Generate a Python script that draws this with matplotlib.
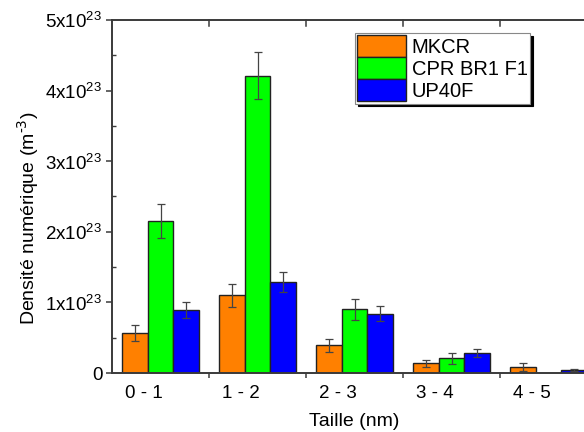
import numpy as np
import matplotlib
matplotlib.use("Agg")
import matplotlib.pyplot as plt
import matplotlib.transforms as mtransforms
from matplotlib.ticker import FuncFormatter, MultipleLocator

plt.rcParams['font.family'] = ['Liberation Sans', 'DejaVu Sans']

# data (m^-3)
categories = ["0 - 1", "1 - 2", "2 - 3", "3 - 4", "4 - 5"]
series_names = ["MKCR", "CPR BR1 F1", "UP40F"]
mkcr = [0.57e23, 1.10e23, 0.39e23, 0.14e23, 0.085e23]
mkcr_err = [0.11e23, 0.16e23, 0.09e23, 0.05e23, 0.05e23]
cpr = [2.15e23, 4.21e23, 0.90e23, 0.21e23, 0.0]
cpr_err = [0.24e23, 0.33e23, 0.15e23, 0.08e23, 0.0]
up40f = [0.89e23, 1.29e23, 0.84e23, 0.28e23, 0.04e23]
up40f_err = [0.11e23, 0.14e23, 0.11e23, 0.06e23, 0.015e23]

colors = ["#FF8000", "#00FF00", "#0000FF"]
spine_col = "#3a3a3a"

fig = plt.figure(figsize=(5.84, 4.32), dpi=100)
# axes runs past the right edge of the figure, like the cropped original
ax_w = 485.0
ax = fig.add_axes([112 / 584, 1 - 373 / 432, ax_w / 584, 353 / 432])

x = np.arange(len(categories))
w = 0.268
for k, (vals, errs) in enumerate([(mkcr, mkcr_err), (cpr, cpr_err), (up40f, up40f_err)]):
    pos = x + (k - 1) * w
    keep = [i for i, v in enumerate(vals) if v > 0]
    ax.bar(pos[keep], [vals[i] for i in keep], w, color=colors[k],
           edgecolor="#222222", linewidth=1.0, label=series_names[k], zorder=2)
    ax.errorbar(pos[keep], [vals[i] for i in keep], yerr=[errs[i] for i in keep],
                fmt="none", ecolor="#444444", elinewidth=0.9, capsize=3,
                capthick=0.9, zorder=3)

ax.set_xlim(-0.5, 4.5)
ax.set_ylim(0, 5e23)

# y ticks
ax.yaxis.set_major_locator(MultipleLocator(1e23))
ax.yaxis.set_minor_locator(MultipleLocator(0.5e23))

def yfmt(v, pos):
    n = int(round(v / 1e23))
    if n == 0:
        return "0"
    return "%dx10$^{\\mathregular{23}}$" % n

ax.yaxis.set_major_formatter(FuncFormatter(yfmt))
ax.tick_params(axis="y", which="major", direction="out", length=4, width=1.1,
               color=spine_col, labelsize=13.5, pad=3)
ax.tick_params(axis="y", which="minor", direction="in", length=3, width=1.0,
               color=spine_col)

# x ticks: labels at group centres (shifted left), ticks between groups
ax.set_xticks(x)
ax.set_xticklabels(categories)
ax.set_xticks(x[:-1] + 0.5, minor=True)
ax.tick_params(axis="x", which="major", length=0, labelsize=13.5, pad=9)
ax.tick_params(axis="x", which="minor", direction="out", length=3.5, width=1.1,
               color=spine_col)
shift = mtransforms.ScaledTranslation(-16.5 / 100, 0, fig.dpi_scale_trans)
for lab in ax.get_xticklabels():
    lab.set_transform(lab.get_transform() + shift)

# small inward ticks on the top spine
for xb in x[:-1] + 0.5:
    ax.plot([xb, xb], [5e23, 4.91e23], color=spine_col, lw=1.1, clip_on=False, zorder=4)

for s in ax.spines.values():
    s.set_color(spine_col)
    s.set_linewidth(1.4)

ax.set_xlabel("Taille (nm)", fontsize=14, va="center")
ax.xaxis.set_label_coords((354 - 112) / ax_w, (373 - 421.7) / 353)
ax.set_ylabel("Densité numérique (m$^{\\text{-3}}$)", fontsize=14, va="center")
ax.yaxis.set_label_coords((28 - 112) / ax_w, (373 - 218) / 353)

leg = ax.legend(loc="upper left", bbox_to_anchor=(355 / 584, 1 - 33 / 432),
                bbox_transform=fig.transFigure, fontsize=14.5, frameon=True,
                fancybox=False, borderpad=0.12, borderaxespad=0,
                labelspacing=0, handlelength=2.4, handleheight=1.3,
                handletextpad=0.3,
                shadow={"color": "black", "alpha": 1})
leg.get_frame().set_edgecolor("#888888")
leg.get_frame().set_linewidth(0.8)
leg.get_frame().set_alpha(1)

fig.savefig("out.png", dpi=100)
